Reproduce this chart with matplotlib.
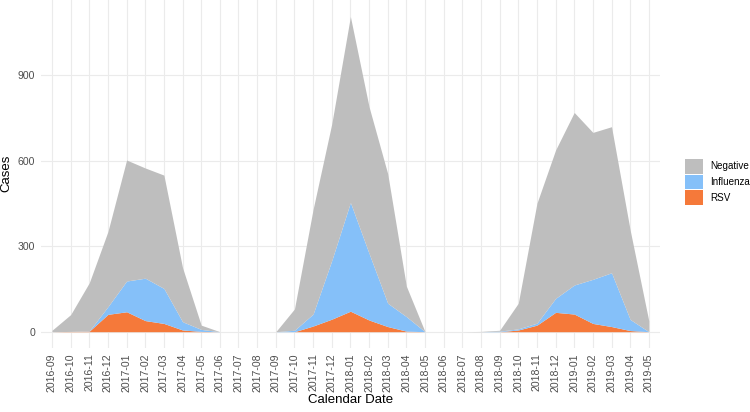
import matplotlib
matplotlib.use("Agg")
import matplotlib.pyplot as plt
from matplotlib.patches import Patch
import numpy as np

plt.rcParams['font.family'] = ['Liberation Sans', 'DejaVu Sans']

months = ["2016-09", "2016-10", "2016-11", "2016-12", "2017-01", "2017-02",
          "2017-03", "2017-04", "2017-05", "2017-06", "2017-07", "2017-08",
          "2017-09", "2017-10", "2017-11", "2017-12", "2018-01", "2018-02",
          "2018-03", "2018-04", "2018-05", "2018-06", "2018-07", "2018-08",
          "2018-09", "2018-10", "2018-11", "2018-12", "2019-01", "2019-02",
          "2019-03", "2019-04", "2019-05"]

rsv = [0, 1, 2, 61, 70, 39, 29, 6, 1, 0, 0, 0,
       0, 0, 20, 44, 72, 41, 18, 2, 0, 0, 0, 0,
       0, 6, 23, 68, 62, 29, 18, 4, 0]
influenza = [0, 0, 1, 27, 108, 149, 123, 29, 7, 0, 0, 0,
             0, 5, 42, 206, 382, 234, 82, 51, 0, 0, 0, 0,
             2, 4, 7, 49, 102, 155, 189, 39, 0]
negative = [5, 59, 169, 264, 425, 387, 398, 190, 15, 0, 0, 0,
            0, 75, 368, 480, 653, 515, 455, 107, 0, 0, 0, 1,
            3, 90, 421, 521, 606, 516, 513, 314, 38]

colors = {"Negative": "#BEBEBE", "Influenza": "#85C0F9", "RSV": "#F5793A"}

x = np.arange(len(months))
r = np.array(rsv)
f = r + np.array(influenza)
n = f + np.array(negative)

fig = plt.figure(figsize=(7.5, 4.12), dpi=100)
ax = fig.add_axes([40.8 / 750, 1 - 347.5 / 412, (660 - 40.8) / 750, 347.5 / 412])

# stacked areas: RSV bottom, then Influenza, then Negative
ax.fill_between(x, 0, r, color=colors["RSV"], linewidth=0, zorder=3)
ax.fill_between(x, r, f, color=colors["Influenza"], linewidth=0, zorder=3)
ax.fill_between(x, f, n, color=colors["Negative"], linewidth=0, zorder=3)

ax.set_xlim(-0.6, len(months) - 0.4)
ax.set_ylim(-55.5, 1165)
ax.set_yticks([0, 300, 600, 900])
ax.set_xticks(x)
ax.set_xticklabels(months, rotation=90)

ax.grid(True, color="#EBEBEB", linewidth=0.8, zorder=0)
ax.set_axisbelow(True)
for s in ax.spines.values():
    s.set_visible(False)
ax.tick_params(length=0, labelsize=7.6, labelcolor="#4D4D4D", pad=4)

ax.set_ylabel("Cases", fontsize=9.5, labelpad=4)
ax.set_xlabel("Calendar Date", fontsize=9.5, labelpad=2)

handles = [Patch(facecolor=colors[k], edgecolor="none", label=k)
           for k in ["Negative", "Influenza", "RSV"]]
fig.legend(handles=handles, loc="center left",
           bbox_to_anchor=(680 / 750, 1 - 182 / 412), frameon=False,
           fontsize=7.1, handlelength=1.85, handleheight=1.95,
           labelspacing=0.1, handletextpad=0.7, borderpad=0)

fig.savefig("out.png", dpi=100)
